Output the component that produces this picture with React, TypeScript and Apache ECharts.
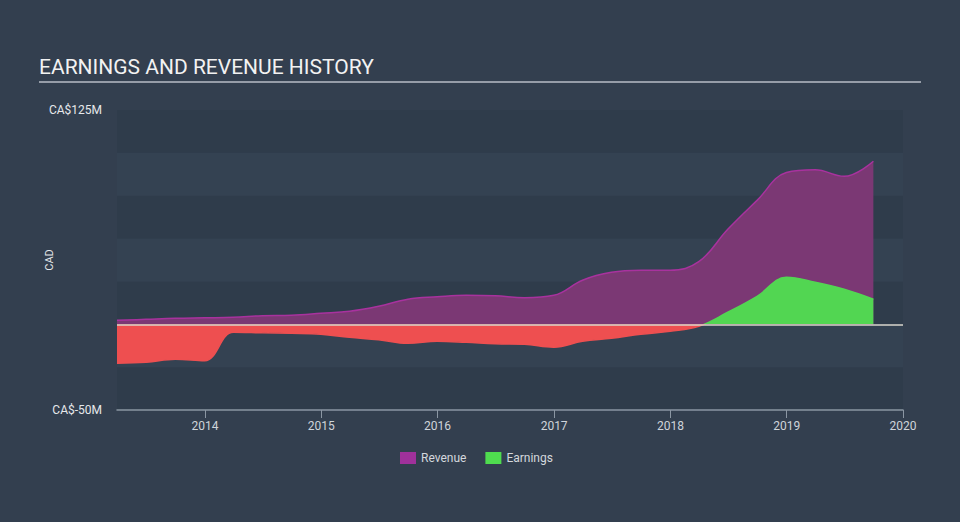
import React, { useEffect, useRef } from "react";
import * as echarts from "echarts";

const dates = [
  "2013-03-31", "2013-06-30", "2013-09-30", "2013-12-31",
  "2014-03-31", "2014-06-30", "2014-09-30", "2014-12-31",
  "2015-03-31", "2015-06-30", "2015-09-30", "2015-12-31",
  "2016-03-31", "2016-06-30", "2016-09-30", "2016-12-31",
  "2017-03-31", "2017-06-30", "2017-09-30", "2017-12-31",
  "2018-03-31", "2018-06-30", "2018-09-30", "2018-12-31",
  "2019-03-31", "2019-06-30", "2019-09-30",
];

const revenue = [
  2.3, 2.9, 3.5, 3.8, 4.1, 5.0, 5.3, 6.4, 7.6, 10.5, 14.6, 16.0, 16.9, 16.6,
  15.5, 16.9, 25.7, 30.3, 31.5, 31.5, 36.5, 55.4, 72.3, 88.5, 90.1, 86.3, 95.1,
];

const earnings = [
  -22.7, -22.2, -20.4, -21.3, -4.7, -5.0, -5.3, -5.8, -7.6, -9.0, -11.1, -9.9,
  -10.5, -11.4, -11.7, -13.4, -9.9, -8.2, -5.8, -4.1, -1.2, 7.0, 16.3, 27.4,
  24.5, 20.4, 14.6,
];

const xStart = "2013-03-31";
const xEnd = "2020-01-01";
const yMin = -50;
const yMax = 125;
const yStep = 25;

const BG = "#333f4f";
const YEAR_MS = 365 * 24 * 3600 * 1000;

export default function App() {
  const ref = useRef<HTMLDivElement>(null);

  useEffect(() => {
    if (!ref.current) return;
    document.body.style.margin = "0";
    document.body.style.background = BG;
    const chart = echarts.init(ref.current, undefined, { renderer: "svg" });
    chart.setOption({
      animation: false,
      backgroundColor: BG,
      textStyle: { fontFamily: "Roboto, sans-serif" },
      graphic: [
        {
          type: "text",
          left: 39,
          top: 56,
          style: {
            text: "EARNINGS AND REVENUE HISTORY",
            fill: "#f2f2f2",
            font: "21px Roboto, sans-serif",
          },
        },
        {
          type: "line",
          shape: { x1: 39, y1: 82, x2: 921, y2: 82 },
          style: { stroke: "#b8bec6", lineWidth: 1.5 },
        },
      ],
      legend: {
        top: 447,
        left: 395,
        itemWidth: 16,
        itemHeight: 12,
        itemGap: 19,
        icon: "rect",
        textStyle: { color: "#d4d8dd", fontSize: 12 },
        data: [
          { name: "Revenue", itemStyle: { color: "#a0319b" } },
          { name: "Earnings", itemStyle: { color: "#4fdc4f" } },
        ],
      },
      grid: { left: 117, right: 57, top: 110, bottom: 112, containLabel: false },
      xAxis: {
        type: "time",
        min: xStart,
        max: xEnd,
        splitNumber: 7,
        minInterval: YEAR_MS,
        axisLine: { onZero: false, lineStyle: { color: "#8b96a3", width: 1.5 } },
        axisTick: {
          show: true,
          length: 8,
          lineStyle: { color: "#8b96a3" },
        },
        axisLabel: {
          color: "#cfd4da",
          fontSize: 12,
          margin: 10,
          showMaxLabel: true,
          formatter: "{yyyy}",
        },
        splitLine: { show: false },
      },
      yAxis: {
        type: "value",
        min: yMin,
        max: yMax,
        interval: yStep,
        name: "CAD",
        nameLocation: "middle",
        nameRotate: 90,
        nameGap: 62,
        nameMoveOverlap: false,
        nameTextStyle: { color: "#e6e8eb", fontSize: 11 },
        axisLine: { show: false },
        axisTick: { show: false },
        splitLine: { show: false },
        splitArea: {
          show: true,
          areaStyle: { color: ["#2f3c4b", "#344252"] },
        },
        axisLabel: {
          color: "#e6e8eb",
          fontSize: 12,
          margin: 15,
          formatter: (v: number) =>
            v === yMax || v === yMin ? `CA$${v}M` : "",
        },
      },
      visualMap: {
        show: false,
        type: "piecewise",
        seriesIndex: 1,
        dimension: 1,
        pieces: [{ gt: 0, lte: 1000, color: "#52d652" }],
        outOfRange: { color: "#ee4f50" },
      },
      series: [
        {
          name: "Revenue",
          type: "line",
          smooth: 0.4,
          showSymbol: false,
          symbol: "none",
          data: dates.map((d, i) => [d, revenue[i]]),
          lineStyle: { color: "#a8329e", width: 1.5 },
          itemStyle: { color: "#a0319b" },
          areaStyle: { color: "#7b3874", opacity: 1 },
          z: 2,
        },
        {
          name: "Earnings",
          type: "line",
          smooth: 0.4,
          showSymbol: false,
          symbol: "none",
          data: dates.map((d, i) => [d, earnings[i]]),
          lineStyle: { width: 1.5 },
          itemStyle: { color: "#4fdc4f" },
          areaStyle: { opacity: 1 },
          z: 3,
          markLine: {
            silent: true,
            symbol: "none",
            label: { show: false },
            lineStyle: { color: "#d9d6cc", width: 1.5, type: "solid" },
            data: [{ yAxis: 0 }],
          },
        },
      ],
    });
    return () => chart.dispose();
  }, []);

  return (
    <div
      ref={ref}
      style={{ position: "fixed", left: 0, top: 0, width: 960, height: 522, background: BG }}
    />
  );
}
